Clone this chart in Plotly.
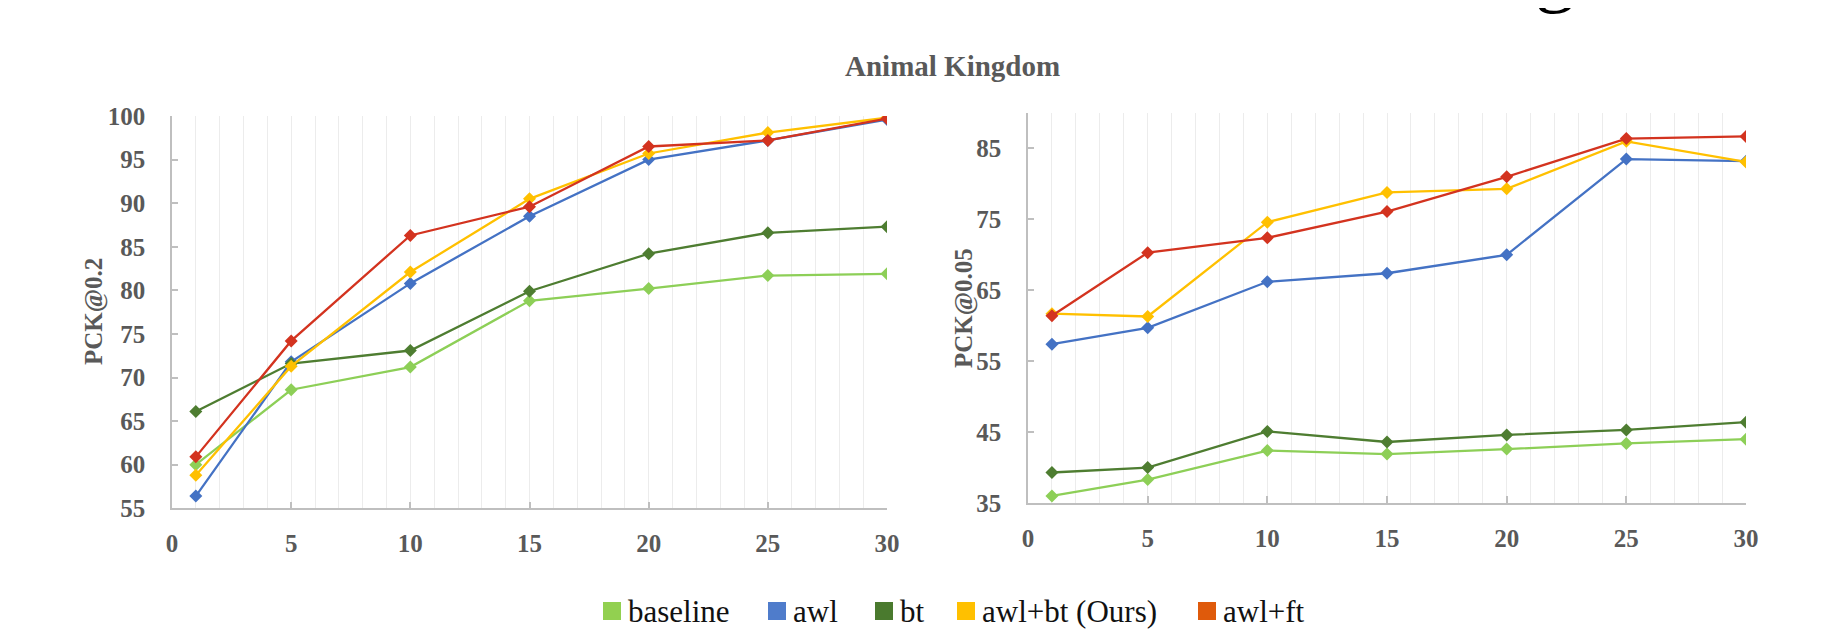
import plotly.graph_objects as go

# ---------------- data ----------------
epochs = [1, 5, 10, 15, 20, 25, 30]
series_names = ["baseline", "awl", "bt", "awl+bt (Ours)", "awl+ft"]

pck02_baseline = [60.0, 68.6, 71.2, 78.8, 80.2, 81.7, 81.9]
pck02_awl = [56.4, 71.8, 80.8, 88.5, 95.0, 97.2, 99.6]
pck02_bt = [66.1, 71.6, 73.1, 79.9, 84.2, 86.6, 87.3]
pck02_awl_bt = [58.8, 71.3, 82.1, 90.5, 95.7, 98.1, 99.8]
pck02_awl_ft = [60.9, 74.2, 86.3, 89.6, 96.5, 97.2, 99.7]

pck005_baseline = [36.0, 38.3, 42.4, 41.9, 42.6, 43.4, 44.0]
pck005_awl = [57.4, 59.7, 66.2, 67.4, 70.0, 83.5, 83.2]
pck005_bt = [39.3, 40.0, 45.1, 43.6, 44.6, 45.3, 46.4]
pck005_awl_bt = [61.7, 61.3, 74.6, 78.8, 79.3, 86.0, 83.1]
pck005_awl_ft = [61.4, 70.3, 72.4, 76.1, 81.0, 86.4, 86.7]

x_ticks = [0, 5, 10, 15, 20, 25, 30]
y_ticks_left = [55, 60, 65, 70, 75, 80, 85, 90, 95, 100]
y_ticks_right = [35, 45, 55, 65, 75, 85]

# ---------------- styles ----------------
line_colors = ["#8DCF57", "#4472C4", "#4E7D31", "#FFC000", "#D3331F"]
swatch_colors = ["#92D050", "#4F7CCB", "#4A7A2E", "#FFC000", "#DF5A0B"]

W, H = 1826, 639
OFF = 8  # page body margin
GRAY = "#595959"
AXIS = "#bfbfbf"
GRID = "#ececec"
FONT = "Liberation Serif"


def px_x(p):
    return (p - OFF) / W


def px_y(p):
    return 1 - (p - OFF) / H


left_series = [pck02_baseline, pck02_awl, pck02_bt, pck02_awl_bt, pck02_awl_ft]
right_series = [pck005_baseline, pck005_awl, pck005_bt, pck005_awl_bt, pck005_awl_ft]

fig = go.Figure()
for name, col, ys in zip(series_names, line_colors, left_series):
    fig.add_trace(go.Scatter(x=epochs, y=ys, name=name, mode="lines+markers",
                             line=dict(color=col, width=2.3),
                             marker=dict(symbol="diamond", size=10, color=col),
                             xaxis="x", yaxis="y", showlegend=False))
for name, col, ys in zip(series_names, line_colors, right_series):
    fig.add_trace(go.Scatter(x=epochs, y=ys, name=name, mode="lines+markers",
                             line=dict(color=col, width=2.3),
                             marker=dict(symbol="diamond", size=10, color=col),
                             xaxis="x2", yaxis="y2", showlegend=False))

tickfont = dict(family=FONT, size=25, color=GRAY, weight="bold")

xcommon = dict(range=[0, 30], tickvals=x_ticks, ticks="inside", ticklen=7,
               tickcolor=AXIS, tickwidth=1.5, showline=True, linecolor=AXIS,
               linewidth=1.5, showgrid=True, gridcolor=GRID, gridwidth=1,
               minor=dict(dtick=1, showgrid=True, gridcolor=GRID, gridwidth=1),
               zeroline=False, tickfont=tickfont, ticklabelstandoff=12,
               automargin=False, fixedrange=True)
ycommon = dict(ticks="inside", ticklen=6, tickcolor=AXIS, tickwidth=1.5,
               showline=True, linecolor=AXIS, linewidth=1.5, showgrid=False,
               zeroline=False, tickfont=tickfont, ticklabelstandoff=20,
               automargin=False, fixedrange=True)

fig.update_layout(
    template="none",
    width=W, height=H, autosize=False,
    margin=dict(l=0, r=0, t=0, b=0, pad=0),
    paper_bgcolor="white", plot_bgcolor="white",
    showlegend=False,
    xaxis=dict(domain=[px_x(172), px_x(887)], anchor="y", **xcommon),
    yaxis=dict(domain=[px_y(508.3), px_y(116)], anchor="x", range=[55, 100],
               tickvals=y_ticks_left, **ycommon),
    xaxis2=dict(domain=[px_x(1028), px_x(1746)], anchor="y2", **xcommon),
    yaxis2=dict(domain=[px_y(503), px_y(113)], anchor="x2", range=[35, 90],
                tickvals=y_ticks_right, **ycommon),
)

annotations = [
    dict(text="Animal Kingdom", x=px_x(952), y=px_y(66), xref="paper", yref="paper",
         xanchor="center", yanchor="middle", showarrow=False,
         font=dict(family=FONT, size=29, color=GRAY, weight="bold")),
    dict(text="PCK@0.2", x=px_x(94), y=px_y(312), xref="paper", yref="paper",
         xanchor="center", yanchor="middle", showarrow=False, textangle=-90,
         font=dict(family=FONT, size=25, color=GRAY, weight="bold")),
    dict(text="PCK@0.05", x=px_x(964), y=px_y(308), xref="paper", yref="paper",
         xanchor="center", yanchor="middle", showarrow=False, textangle=-90,
         font=dict(family=FONT, size=25, color=GRAY, weight="bold")),
    dict(text="g", x=px_x(1555), y=px_y(-30), xref="paper", yref="paper",
         xanchor="center", yanchor="middle", showarrow=False,
         font=dict(family=FONT, size=80, color="black")),
]

# manual legend (swatch squares + labels)
legend_swatch_x = [603, 768, 875, 957, 1198]
shapes = []
for name, col, sx in zip(series_names, swatch_colors, legend_swatch_x):
    shapes.append(dict(type="rect", xref="paper", yref="paper",
                       x0=px_x(sx), x1=px_x(sx + 18), y0=px_y(620), y1=px_y(602),
                       line=dict(width=0), fillcolor=col))
    annotations.append(dict(text=name, x=px_x(sx + 23), y=px_y(611), xref="paper",
                            yref="paper", xanchor="left", yanchor="middle",
                            showarrow=False,
                            font=dict(family=FONT, size=31, color="#111111")))

fig.update_layout(annotations=annotations, shapes=shapes)

fig.write_html("out.html")
